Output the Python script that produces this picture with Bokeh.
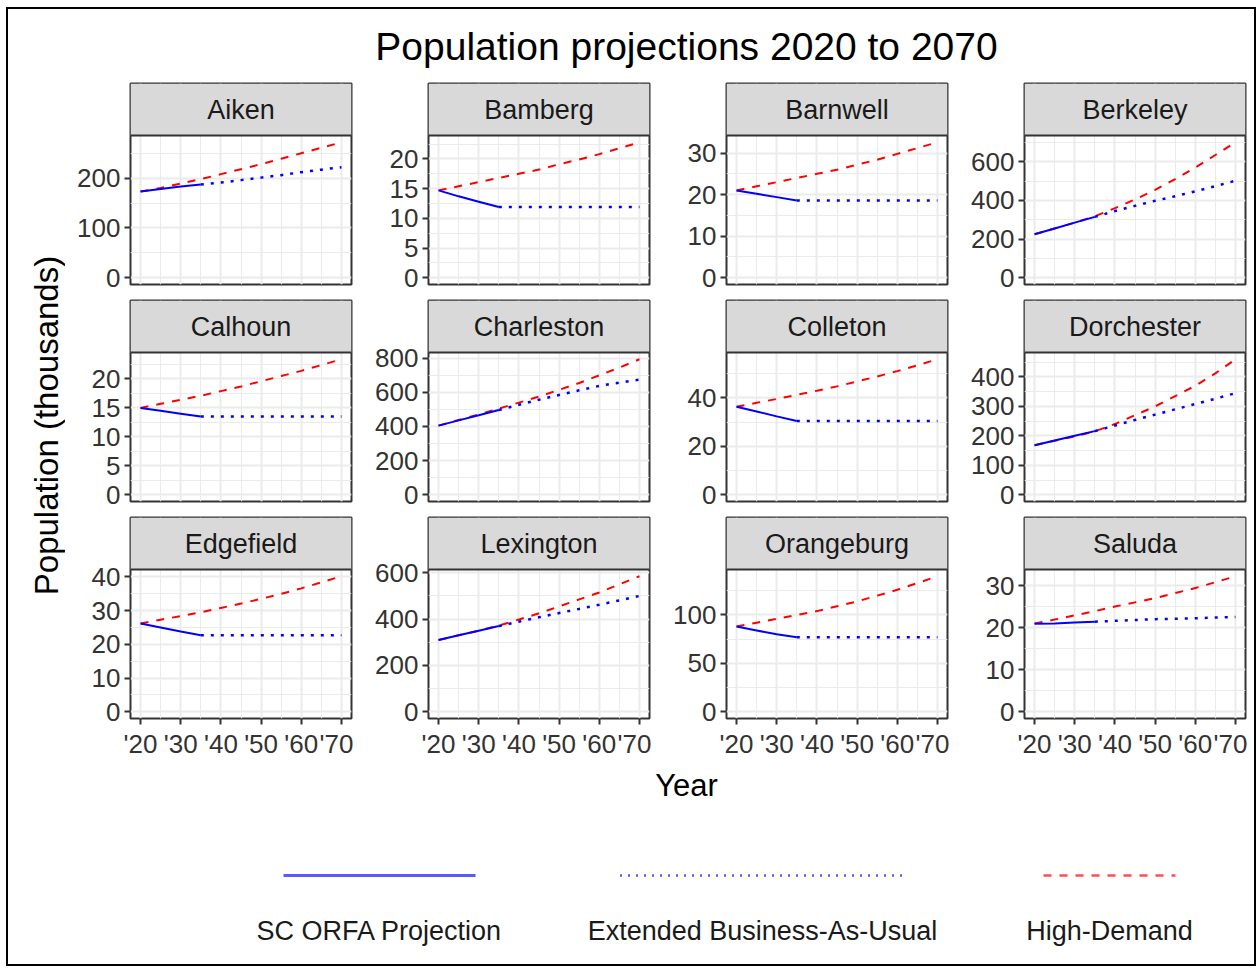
import math
from bokeh.plotting import figure
from bokeh.layouts import row, column
from bokeh.models import Range1d, FixedTicker, Label, BoxAnnotation, Span
from bokeh.embed import file_html
from bokeh.resources import INLINE

# ---------------- data (thousands of people) ----------------
COUNTIES = ["Aiken", "Bamberg", "Barnwell", "Berkeley",
            "Calhoun", "Charleston", "Colleton", "Dorchester",
            "Edgefield", "Lexington", "Orangeburg", "Saluda"]

YEARS_ORFA = [2020, 2025, 2030, 2035]
YEARS_BAU = [2035, 2040, 2045, 2050, 2055, 2060, 2065, 2070]
YEARS_HD = [2020, 2025, 2030, 2035, 2040, 2045, 2050, 2055, 2060, 2065, 2070]

ORFA = {
    "Aiken": [173, 178, 183, 187],
    "Bamberg": [14.7, 13.7, 12.8, 11.9],
    "Barnwell": [21.0, 20.2, 19.4, 18.6],
    "Berkeley": [225, 255, 285, 315],
    "Calhoun": [15.0, 14.5, 14.0, 13.5],
    "Charleston": [405, 436, 466, 497],
    "Colleton": [36.4, 34.4, 32.4, 30.5],
    "Dorchester": [168, 184, 200, 216],
    "Edgefield": [26.2, 25.0, 23.8, 22.7],
    "Lexington": [310, 330, 350, 370],
    "Orangeburg": [88, 84, 80, 77],
    "Saluda": [20.9, 21.0, 21.2, 21.4],
}

BAU = {
    "Aiken": [187, 191, 196, 201, 206, 212, 217, 222],
    "Bamberg": [11.9, 11.9, 11.9, 11.9, 11.9, 11.9, 11.9, 11.9],
    "Barnwell": [18.6, 18.6, 18.6, 18.6, 18.6, 18.6, 18.6, 18.6],
    "Berkeley": [315, 345, 372, 398, 422, 447, 474, 502],
    "Calhoun": [13.5, 13.5, 13.5, 13.5, 13.5, 13.5, 13.5, 13.5],
    "Charleston": [497, 527, 557, 585, 612, 638, 657, 675],
    "Colleton": [30.5, 30.5, 30.5, 30.5, 30.5, 30.5, 30.5, 30.5],
    "Dorchester": [216, 235, 254, 272, 290, 308, 326, 345],
    "Edgefield": [22.7, 22.7, 22.7, 22.7, 22.7, 22.7, 22.7, 22.7],
    "Lexington": [370, 389, 408, 426, 444, 462, 481, 500],
    "Orangeburg": [77, 77, 77, 77, 77, 77, 77, 77],
    "Saluda": [21.4, 21.6, 21.8, 22.0, 22.1, 22.2, 22.4, 22.5],
}

HD = {
    "Aiken": [173, 180, 189, 198, 208, 218, 228, 239, 250, 261, 272],
    "Bamberg": [14.7, 15.4, 16.1, 16.8, 17.5, 18.2, 19.1, 19.9, 20.8, 21.8, 22.8],
    "Barnwell": [21.0, 22.0, 23.0, 24.0, 25.0, 26.0, 27.2, 28.4, 29.8, 31.2, 32.6],
    "Berkeley": [225, 255, 285, 318, 360, 405, 455, 510, 570, 635, 701],
    "Calhoun": [15.0, 15.7, 16.4, 17.1, 17.9, 18.7, 19.6, 20.5, 21.4, 22.4, 23.4],
    "Charleston": [405, 438, 470, 505, 540, 575, 615, 655, 700, 745, 794],
    "Colleton": [36.4, 38.0, 39.6, 41.3, 43.0, 44.8, 46.8, 48.9, 51.1, 53.5, 56.0],
    "Dorchester": [168, 183, 198, 215, 240, 270, 300, 335, 370, 412, 460],
    "Edgefield": [26.2, 27.3, 28.4, 29.5, 30.8, 32.1, 33.5, 35.0, 36.6, 38.4, 40.2],
    "Lexington": [310, 330, 350, 372, 398, 425, 455, 485, 515, 550, 585],
    "Orangeburg": [88, 92, 96, 100, 104, 109, 114, 120, 126, 133, 140],
    "Saluda": [21.0, 21.9, 22.9, 23.9, 25.0, 26.0, 27.0, 28.2, 29.4, 30.8, 32.2],
}

Y_TICKS = {
    "Aiken": [0, 100, 200],
    "Bamberg": [0, 5, 10, 15, 20],
    "Barnwell": [0, 10, 20, 30],
    "Berkeley": [0, 200, 400, 600],
    "Calhoun": [0, 5, 10, 15, 20],
    "Charleston": [0, 200, 400, 600, 800],
    "Colleton": [0, 20, 40],
    "Dorchester": [0, 100, 200, 300, 400],
    "Edgefield": [0, 10, 20, 30, 40],
    "Lexington": [0, 200, 400, 600],
    "Orangeburg": [0, 50, 100],
    "Saluda": [0, 10, 20, 30],
}

X_TICKS = [2020, 2030, 2040, 2050, 2060, 2070]
X_TICK_LABELS = ["'20", "'30", "'40", "'50", "'60", "'70"]
X_MINOR = [2025, 2035, 2045, 2055, 2065]

TITLE = "Population projections 2020 to 2070"
Y_TITLE = "Population (thousands)"
X_TITLE = "Year"
SERIES_NAMES = ["SC ORFA Projection", "Extended Business-As-Usual", "High-Demand"]

# ---------------- styling / layout ----------------
FONT = "Liberation Sans"
TICK_COL = "#333333"
BORDER_COL = "#333333"
GRID_COL = "#EBEBEB"
STRIP_FILL = "#D9D9D9"

FW = 221          # panel frame width
FH = 149          # panel area height (px)
STRIP = 52        # strip height (px)
TOPB = 1
GAP = 15          # space under rows without x axis
XB = 50           # x axis area in the last row
BR = 2
YLAB_W = 57
TOTAL_W = 1246
TITLE_H = 73
BOT_H = 196


def make_panel(name, bl, show_x):
    orfa, bau, hd = ORFA[name], BAU[name], HD[name]
    hi = max(max(orfa), max(bau), max(hd))
    lo = min(0, min(orfa), min(bau), min(hd))
    pad = 0.05 * (hi - lo)
    y0, y1 = lo - pad, hi + pad
    per_px = (y1 - y0) / FH
    ytop = y1 + STRIP * per_px
    bottom = XB if show_x else GAP
    xr = Range1d(2017.5, 2072.5)
    p = figure(width=bl + FW + BR, height=TOPB + STRIP + FH + bottom,
               x_range=xr, y_range=Range1d(y0, ytop),
               x_axis_location="below" if show_x else None, y_axis_location="left",
               toolbar_location=None, output_backend="svg",
               min_border_left=bl, min_border_right=BR, min_border_top=TOPB,
               min_border_bottom=bottom,
               background_fill_color="white", border_fill_color="white",
               outline_line_color=BORDER_COL, outline_line_width=2)

    yt = Y_TICKS[name]
    step = yt[1] - yt[0]
    yminor = [t + step / 2 for t in yt] + [yt[0] - step / 2]
    yminor = [v for v in yminor if y0 <= v <= y1]
    yticker = FixedTicker(ticks=yt, minor_ticks=yminor)
    xticker = FixedTicker(ticks=X_TICKS, minor_ticks=X_MINOR)

    p.yaxis.ticker = yticker
    p.ygrid.ticker = yticker
    p.xgrid.ticker = xticker
    p.grid.grid_line_color = GRID_COL
    p.grid.grid_line_width = 2
    p.grid.minor_grid_line_color = GRID_COL
    p.grid.minor_grid_line_width = 1

    axes = [p.yaxis]
    if show_x:
        p.xaxis.ticker = xticker
        p.xaxis.major_label_overrides = {t: l for t, l in zip(X_TICKS, X_TICK_LABELS)}
        axes.append(p.xaxis)
    for ax in axes:
        ax.axis_line_color = None
        ax.major_tick_line_color = BORDER_COL
        ax.major_tick_line_width = 2
        ax.major_tick_out = 6
        ax.major_tick_in = 0
        ax.minor_tick_line_color = None
        ax.major_label_text_font = FONT
        ax.major_label_text_font_size = "26px"
        ax.major_label_text_color = TICK_COL
        ax.major_label_standoff = 4

    p.line(YEARS_HD, hd, line_color="red", line_width=2, line_dash="8 8")
    p.line(YEARS_BAU, bau, line_color="blue", line_width=2.5, line_dash="3 7")
    p.line(YEARS_ORFA, orfa, line_color="blue", line_width=2)

    # facet strip
    p.add_layout(BoxAnnotation(bottom=y1, fill_color=STRIP_FILL, fill_alpha=1.0,
                               line_alpha=0, level="annotation"))
    p.add_layout(Span(location=y1, dimension="width", line_color=BORDER_COL, line_width=2))
    p.add_layout(Label(x=(xr.start + xr.end) / 2, y=(y1 + ytop) / 2, text=name,
                       text_align="center", text_baseline="middle",
                       text_font=FONT, text_font_size="27px", text_color="#1A1A1A"))
    return p


rows = []
for r in range(3):
    cells = []
    for c in range(4):
        name = COUNTIES[r * 4 + c]
        bl = 65 if c == 0 else 75
        cells.append(make_panel(name, bl, r == 2))
    rows.append(row(*cells))
grid = column(*rows)
GRID_H = 2 * (TOPB + STRIP + FH + GAP) + TOPB + STRIP + FH + XB

# title
tf = figure(width=TOTAL_W, height=TITLE_H, x_range=Range1d(0, TOTAL_W), y_range=Range1d(TITLE_H, 0),
            x_axis_location=None, y_axis_location=None, toolbar_location=None, output_backend="svg",
            min_border=0, outline_line_color=None)
tf.grid.visible = False
tf.add_layout(Label(x=678, y=37, text=TITLE, text_align="center", text_baseline="middle",
                    text_font=FONT, text_font_size="39px", text_color="black"))

# y axis title
yf = figure(width=YLAB_W, height=GRID_H, x_range=Range1d(0, YLAB_W), y_range=Range1d(GRID_H, 0),
            x_axis_location=None, y_axis_location=None, toolbar_location=None, output_backend="svg",
            min_border=0, outline_line_color=None)
yf.grid.visible = False
yf.add_layout(Label(x=38, y=343, text=Y_TITLE, angle=math.pi / 2, text_align="center",
                    text_baseline="middle", text_font=FONT, text_font_size="33px", text_color="black"))

# x title + legend
bf = figure(width=TOTAL_W, height=BOT_H, x_range=Range1d(0, TOTAL_W), y_range=Range1d(BOT_H, 0),
            x_axis_location=None, y_axis_location=None, toolbar_location=None, output_backend="svg",
            min_border=0, outline_line_color=None)
bf.grid.visible = False
bf.add_layout(Label(x=678, y=17, text=X_TITLE, text_align="center", text_baseline="middle",
                    text_font=FONT, text_font_size="31px", text_color="black"))

LEG_CENTERS = [371, 754, 1101]
LEG_KEY_W = [192, 285, 132]
LEG_STYLES = [dict(line_color="blue", line_alpha=0.65, line_width=3),
              dict(line_color="blue", line_alpha=0.65, line_width=2.5, line_dash="2 6"),
              dict(line_color="red", line_alpha=0.7, line_width=2.5, line_dash="8 8")]
for cx, kw, st, lab in zip(LEG_CENTERS, LEG_KEY_W, LEG_STYLES, SERIES_NAMES):
    bf.line([cx - kw / 2, cx + kw / 2], [107, 107], **st)
    bf.add_layout(Label(x=cx, y=162, text=lab, text_align="center", text_baseline="middle",
                        text_font=FONT, text_font_size="27px", text_color="#1A1A1A"))

layout = column(tf, row(yf, grid), bf, margin=(7, 0, 0, 6),
                styles={"border": "2px solid black"})

open("out.html", "w").write(file_html(layout, INLINE))
